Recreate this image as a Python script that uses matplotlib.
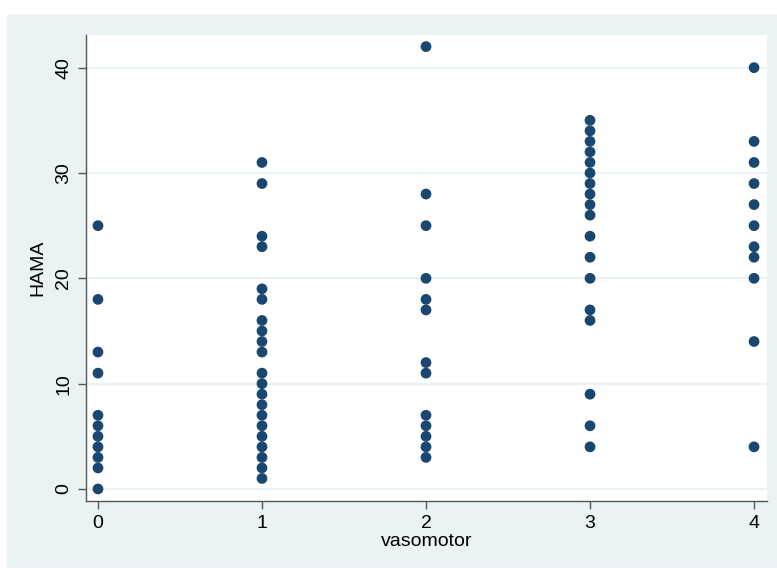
import matplotlib
matplotlib.use("Agg")
import matplotlib.pyplot as plt
from matplotlib.patches import Rectangle

plt.rcParams['font.family'] = ['Liberation Sans Narrow', 'Liberation Sans', 'DejaVu Sans']

# HAMA values observed at each vasomotor score
hama_0 = [0, 2, 3, 4, 5, 6, 7, 11, 13, 18, 25]
hama_1 = [1, 2, 3, 4, 5, 6, 7, 8, 9, 10, 11, 13, 14, 15, 16, 18, 19, 23, 24, 29, 31]
hama_2 = [3, 4, 5, 6, 7, 11, 12, 17, 18, 20, 25, 28, 42]
hama_3 = [4, 6, 9, 16, 17, 20, 22, 24, 26, 27, 28, 29, 30, 31, 32, 33, 34, 35]
hama_4 = [4, 14, 20, 22, 23, 25, 27, 29, 31, 33, 40]

groups = [hama_0, hama_1, hama_2, hama_3, hama_4]
x_vals = []
y_vals = []
for score, vals in enumerate(groups):
    x_vals += [score] * len(vals)
    y_vals += vals

W, H = 777, 572
bg = '#EAF2F3'
navy = '#1A476F'

fig = plt.figure(figsize=(W / 100, H / 100), dpi=100)
fig.patch.set_facecolor('white')
outer = Rectangle((7 / W, 5 / H), 1 - 7 / W, (H - 20) / H,
                  transform=fig.transFigure, color=bg, zorder=-10)
fig.add_artist(outer)

ax = fig.add_axes([86 / W, (H - 501) / H, (767 - 86) / W, (501 - 35) / H])
ax.set_zorder(5)
ax.set_facecolor('white')

ax.scatter(x_vals, y_vals, s=60, color=navy, edgecolors='none', zorder=3, clip_on=False)

ax.set_xlim(-0.073, 4.079)
ax.set_ylim(-1.14, 43.1)
ax.set_xticks([0, 1, 2, 3, 4])
ax.set_yticks([0, 10, 20, 30, 40])
ax.yaxis.grid(True, color=bg, linewidth=1.5)
ax.set_axisbelow(True)

for s in ['top', 'right']:
    ax.spines[s].set_visible(False)
for s in ['left', 'bottom']:
    ax.spines[s].set_color('#555555')
    ax.spines[s].set_linewidth(1.0)

ax.tick_params(axis='both', direction='out', length=6, width=1, color='#555555',
               labelsize=14, pad=4)
for lab in ax.get_yticklabels():
    lab.set_rotation(90)
    lab.set_va('center')

ax.set_xlabel('vasomotor', fontsize=14, labelpad=1)
ax.set_ylabel('HAMA', fontsize=14, labelpad=6)

fig.savefig('out.png', dpi=100)
